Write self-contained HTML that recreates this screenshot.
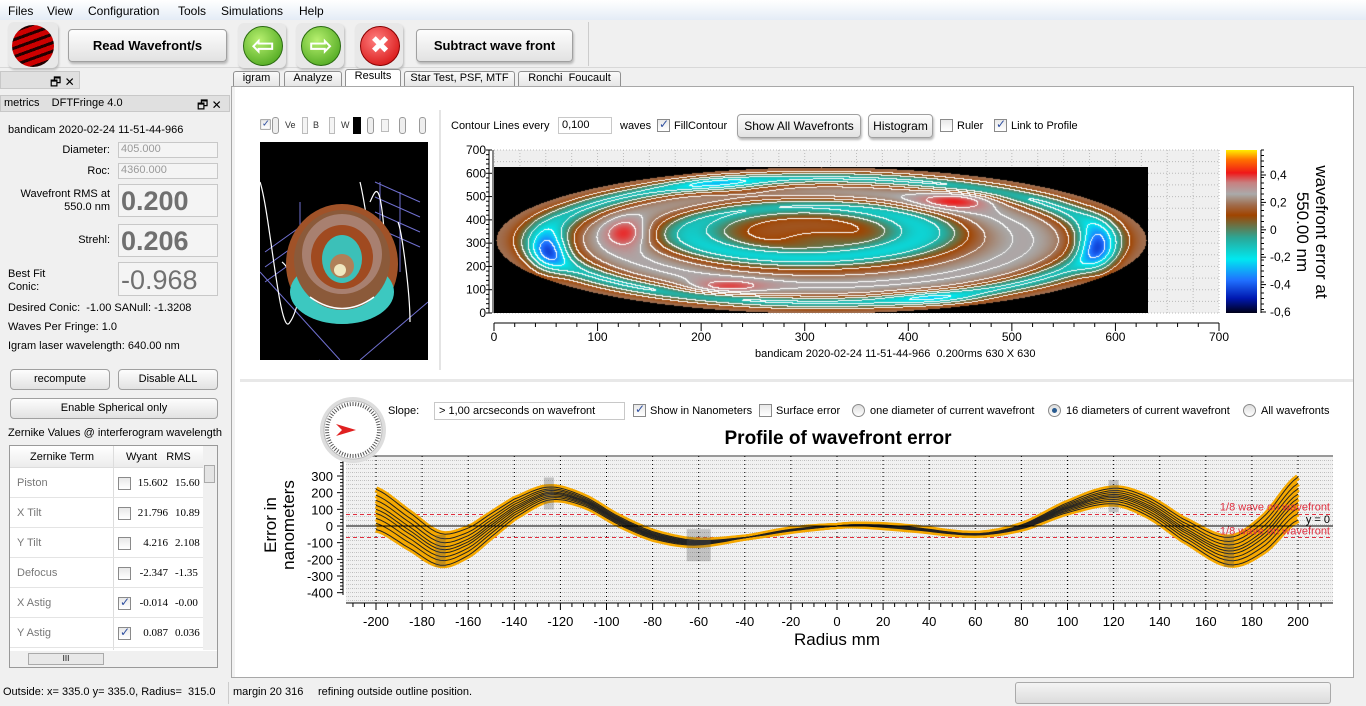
<!DOCTYPE html>
<html><head><meta charset="utf-8">
<style>
*{margin:0;padding:0;box-sizing:border-box}
body{width:1366px;height:706px;overflow:hidden;background:#f0f0f0;font-family:"Liberation Sans","DejaVu Sans",sans-serif;font-size:12px;color:#000;position:relative}
.a{position:absolute;white-space:nowrap}
.btn{position:absolute;border:1px solid #a0a0a0;border-radius:4px;background:linear-gradient(#fdfdfd,#e2e2e2);box-shadow:1px 2px 2px #b8b8b8;text-align:center}
.fld{position:absolute;border:1px solid #c8c8c8;background:#f4f4f4}
.cb{position:absolute;width:13px;height:13px;border:1px solid #8a8a8a;background:linear-gradient(#e8e8e8,#fff)}
.cb.on::after{content:"✓";position:absolute;left:1px;top:-3px;font-size:12px;color:#3050a0;font-weight:bold}
.rd{position:absolute;width:13px;height:13px;border:1px solid #8a8a8a;border-radius:50%;background:linear-gradient(#ddd,#fff)}
.rd.on::after{content:"";position:absolute;left:3px;top:3px;width:5px;height:5px;border-radius:50%;background:#2a5c90}
.tab{position:absolute;top:71px;height:15px;border:1px solid #909090;border-bottom:none;background:linear-gradient(#fafafa,#e6e6e6);font-size:11px;text-align:center;line-height:13px;border-radius:3px 3px 0 0}
</style></head><body>
<div class="a" style="left:0;top:0;width:1366px;height:20px;background:linear-gradient(#fff,#e4ecf6)"></div>
<div class="a" style="left:8px;top:4px">Files</div><div class="a" style="left:47px;top:4px">View</div><div class="a" style="left:88px;top:4px">Configuration</div><div class="a" style="left:178px;top:4px">Tools</div><div class="a" style="left:221px;top:4px">Simulations</div><div class="a" style="left:299px;top:4px">Help</div>
<div class="a" style="left:0;top:20px;width:1366px;height:48px;background:#f0f0f0;border-bottom:1px solid #d8d8d8"></div>
<div class="a" style="left:8px;top:22px;width:50px;height:46px;border-radius:6px;background:#e8e8e8;box-shadow:1px 2px 2px #bbb"></div>
<div class="a" style="left:12px;top:25px;width:42px;height:42px;border-radius:50%;background:repeating-linear-gradient(160deg,#c00 0 5px,#200 5px 8px)"></div>
<div class="btn" style="left:68px;top:29px;width:159px;height:33px;line-height:31px;font-weight:bold;font-size:13px">Read Wavefront/s</div>
<div class="a" style="left:238px;top:23px;width:48px;height:45px;border-radius:6px;background:#e8e8e8;box-shadow:1px 2px 2px #bbb"></div>
<div class="a" style="left:243px;top:26px;width:40px;height:40px;border-radius:50%;background:radial-gradient(circle at 40% 35%,#b8f070,#3a9a10);border:1px solid #2a6a10;color:#fff;font-size:28px;font-weight:bold;text-align:center;line-height:38px">⇦</div>
<div class="a" style="left:296px;top:23px;width:48px;height:45px;border-radius:6px;background:#e8e8e8;box-shadow:1px 2px 2px #bbb"></div>
<div class="a" style="left:301px;top:26px;width:40px;height:40px;border-radius:50%;background:radial-gradient(circle at 40% 35%,#b8f070,#3a9a10);border:1px solid #2a6a10;color:#fff;font-size:28px;font-weight:bold;text-align:center;line-height:38px">⇨</div>
<div class="a" style="left:355px;top:23px;width:48px;height:45px;border-radius:6px;background:#e8e8e8;box-shadow:1px 2px 2px #bbb"></div>
<div class="a" style="left:360px;top:26px;width:40px;height:40px;border-radius:50%;background:radial-gradient(circle at 40% 35%,#ff8080,#d00000);border:1px solid #800;color:#fff;font-size:24px;font-weight:bold;text-align:center;line-height:38px">✖</div>
<div class="btn" style="left:416px;top:29px;width:157px;height:33px;line-height:31px;font-weight:bold;font-size:13px">Subtract wave front</div>
<div class="a" style="left:588px;top:22px;width:1px;height:44px;background:#ccc"></div>
<div class="a" style="left:0;top:71px;width:80px;height:18px;background:#e0e0e0;border:1px solid #c8c8c8"></div>
<div class="a" style="left:50px;top:73px;font-size:12px">🗗 ✕</div>
<div class="a" style="left:0;top:95px;width:230px;height:17px;background:#e0e0e0;border:1px solid #c8c8c8"></div>
<div class="a" style="left:4px;top:97px;font-size:11px">metrics&nbsp;&nbsp;&nbsp;&nbsp;DFTFringe 4.0</div>
<div class="a" style="left:197px;top:96px;font-size:12px">🗗 ✕</div>
<div class="a" style="left:8px;top:124px;font-size:11px">bandicam 2020-02-24 11-51-44-966</div>
<div class="a" style="left:0;top:144px;width:110px;text-align:right;font-size:11px">Diameter:</div>
<div class="fld" style="left:118px;top:142px;width:100px;height:16px;color:#999;font-size:11px;padding-left:2px">405.000</div>
<div class="a" style="left:0;top:165px;width:110px;text-align:right;font-size:11px">Roc:</div>
<div class="fld" style="left:118px;top:163px;width:100px;height:16px;color:#999;font-size:11px;padding-left:2px">4360.000</div>
<div class="a" style="left:0;top:188px;width:110px;text-align:right;font-size:11px;line-height:13px">Wavefront RMS at<br>550.0 nm</div>
<div class="fld" style="left:118px;top:184px;width:100px;height:33px;color:#707070;font-size:27px;font-weight:bold;padding-left:2px;line-height:33px">0.200</div>
<div class="a" style="left:0;top:234px;width:110px;text-align:right;font-size:11px">Strehl:</div>
<div class="fld" style="left:118px;top:224px;width:100px;height:33px;color:#707070;font-size:27px;font-weight:bold;padding-left:2px;line-height:33px">0.206</div>
<div class="a" style="left:8px;top:268px;font-size:11px;line-height:13px">Best Fit<br>Conic:</div>
<div class="fld" style="left:118px;top:262px;width:100px;height:34px;color:#707070;font-size:27px;padding-left:2px;line-height:34px">-0.968</div>
<div class="a" style="left:8px;top:302px;font-size:11px">Desired Conic:&nbsp; -1.00 SANull: -1.3208</div>
<div class="a" style="left:8px;top:321px;font-size:11px">Waves Per Fringe: 1.0</div>
<div class="a" style="left:8px;top:340px;font-size:11px">Igram laser wavelength: 640.00 nm</div>
<div class="btn" style="left:10px;top:369px;width:100px;height:21px;line-height:19px;font-size:11px;box-shadow:none">recompute</div>
<div class="btn" style="left:118px;top:369px;width:100px;height:21px;line-height:19px;font-size:11px;box-shadow:none">Disable ALL</div>
<div class="btn" style="left:10px;top:398px;width:208px;height:21px;line-height:19px;font-size:11px;box-shadow:none">Enable Spherical only</div>
<div class="a" style="left:8px;top:427px;font-size:11px">Zernike Values @ interferogram wavelength</div>
<div class="a" style="left:9px;top:445px;width:209px;height:223px;border:1px solid #999;background:#fff"></div>
<div class="a" style="left:10px;top:446px;width:193px;height:22px;background:linear-gradient(#fff,#ececec);border-bottom:1px solid #ddd"></div>
<div class="a" style="left:30px;top:451px;font-size:11px">Zernike Term</div>
<div class="a" style="left:126px;top:451px;font-size:11px">Wyant&nbsp;&nbsp; RMS</div>
<div class="a" style="left:113px;top:446px;width:1px;height:204px;background:#ddd"></div>
<div class="a" style="left:203px;top:446px;width:14px;height:204px;background:#f0f0f0"></div>
<div class="a" style="left:204px;top:465px;width:11px;height:18px;border:1px solid #aaa;background:#e4e4e4"></div>
<div class="a" style="left:10px;top:651px;width:207px;height:16px;background:#f0f0f0"></div>
<div class="a" style="left:28px;top:653px;width:76px;height:12px;border:1px solid #aaa;background:#e8e8e8;font-size:8px;text-align:center">III</div>
<div id="zt"></div>
<div class="tab" style="left:233px;width:47px">igram</div>
<div class="tab" style="left:284px;width:58px">Analyze</div>
<div class="tab" style="left:345px;width:56px;top:69px;height:18px;background:#fff">Results</div>
<div class="tab" style="left:404px;width:111px">Star Test, PSF, MTF</div>
<div class="tab" style="left:518px;width:103px">Ronchi&nbsp; Foucault</div>
<div class="a" style="left:231px;top:86px;width:1123px;height:592px;background:#fff;border:1px solid #a8a8a8"></div>
<div class="a" style="left:232px;top:87px;width:3px;height:590px;background:#f2f2f2"></div>
<div class="a" style="left:259px;top:116px;width:170px;height:18px;font-size:9px;color:#333">
<span class="cb on" style="left:0;top:2px;transform:scale(.8)"></span>
<span class="a" style="left:13px;top:1px;width:7px;height:17px;border:1px solid #999;border-radius:3px;background:#eee"></span>
<span class="a" style="left:26px;top:4px">Ve</span><span class="a" style="left:43px;top:1px;width:6px;height:17px;border:1px solid #bbb;background:#f4f4f4"></span>
<span class="a" style="left:54px;top:4px">B</span><span class="a" style="left:70px;top:1px;width:6px;height:17px;border:1px solid #bbb;background:#f4f4f4"></span>
<span class="a" style="left:82px;top:4px">W</span>
<span class="a" style="left:94px;top:1px;width:8px;height:17px;background:#000"></span>
<span class="a" style="left:108px;top:1px;width:7px;height:17px;border:1px solid #999;border-radius:3px;background:#eee"></span>
<span class="a" style="left:122px;top:3px;width:8px;height:13px;border:1px solid #bbb;background:#f4f4f4"></span>
<span class="a" style="left:140px;top:1px;width:7px;height:17px;border:1px solid #999;border-radius:3px;background:#eee"></span>
<span class="a" style="left:160px;top:1px;width:7px;height:17px;border:1px solid #999;border-radius:3px;background:#eee"></span></div>
<div class="a" style="left:260px;top:142px;width:168px;height:218px;background:#000;overflow:hidden">
<svg width="168" height="218">
<g stroke="#7070d0" stroke-width="1" fill="none">
<path d="M5 110 L40 85 M5 125 L40 100 M5 140 L40 115 M115 40 L160 60 M115 55 L160 75 M115 70 L160 90 M115 85 L160 105 M10 250 L60 218 M0 130 L80 218 M168 160 L100 218"/>
<path d="M40 60 V150 M120 40 V120 M140 50 V130"/>
</g>
<path d="M0 40 C10 70 20 200 30 180 C45 160 50 60 60 120 M100 40 C105 60 110 100 115 130 M138 80 C142 90 150 150 150 180 M22 120 C35 130 50 180 60 150 M110 60 C115 50 120 30 125 100" stroke="#fff" stroke-width="1.2" fill="none"/>
<ellipse cx="82" cy="122" rx="56" ry="60" fill="#a05228"/>
<ellipse cx="82" cy="150" rx="52" ry="32" fill="#3cc8c0"/>
<ellipse cx="82" cy="118" rx="48" ry="50" fill="#8b5a3a"/>
<ellipse cx="82" cy="112" rx="40" ry="40" fill="#a88070"/>
<ellipse cx="82" cy="115" rx="31" ry="32" fill="#a04a20"/>
<ellipse cx="82" cy="117" rx="20" ry="24" fill="#3cc0b8"/>
<ellipse cx="82" cy="124" rx="12" ry="12" fill="#b08058"/>
<ellipse cx="80" cy="128" rx="6" ry="6" fill="#f0e8c0"/>
<path d="M50 155 Q82 178 114 155" stroke="#fff" stroke-width="1.5" fill="none"/>
</svg></div>
<div class="a" style="left:439px;top:110px;width:2px;height:260px;background:#e4e4e4"></div>
<div class="a" style="left:451px;top:120px;font-size:11px">Contour Lines every</div>
<div class="fld" style="left:558px;top:117px;width:54px;height:17px;background:#fff;font-size:11px;padding:1px 3px">0,100</div>
<div class="a" style="left:620px;top:120px;font-size:11px">waves</div>
<div class="cb on" style="left:657px;top:119px"></div><div class="a" style="left:674px;top:120px;font-size:11px">FillContour</div>
<div class="btn" style="left:737px;top:114px;width:124px;height:24px;line-height:22px">Show All Wavefronts</div>
<div class="btn" style="left:868px;top:114px;width:65px;height:24px;line-height:22px">Histogram</div>
<div class="cb" style="left:940px;top:119px"></div><div class="a" style="left:957px;top:120px;font-size:11px">Ruler</div>
<div class="cb on" style="left:994px;top:119px"></div><div class="a" style="left:1011px;top:120px;font-size:11px">Link to Profile</div>
<svg class="a" style="left:440px;top:140px" width="926" height="230" id="csvg"></svg>
<canvas id="cv" class="a" style="left:494px;top:167px" width="654" height="146"></canvas>
<div class="a" style="left:755px;top:348px;font-size:11px">bandicam 2020-02-24 11-51-44-966&nbsp; 0.200rms 630 X 630</div>
<div class="a" style="left:1312px;top:232px;font-size:17px;transform:translate(-50%,-50%) rotate(90deg);text-align:center;line-height:19px">wavefront error at<br>550.00 nm</div>
<div class="a" style="left:240px;top:379px;width:1113px;height:3px;background:#e8e8e8"></div>
<div class="a" style="left:388px;top:405px;font-size:11px">Slope:</div>
<div class="fld" style="left:434px;top:402px;width:191px;height:18px;background:#fff;font-size:11px;padding:2px 4px">&gt; 1,00 arcseconds on wavefront</div>
<div class="cb on" style="left:633px;top:404px"></div><div class="a" style="left:650px;top:405px;font-size:11px">Show in Nanometers</div>
<div class="cb" style="left:759px;top:404px"></div><div class="a" style="left:776px;top:405px;font-size:11px">Surface error</div>
<div class="rd" style="left:852px;top:404px"></div><div class="a" style="left:870px;top:405px;font-size:11px">one diameter of current wavefront</div>
<div class="rd on" style="left:1048px;top:404px"></div><div class="a" style="left:1066px;top:405px;font-size:11px">16 diameters of current wavefront</div>
<div class="rd" style="left:1243px;top:404px"></div><div class="a" style="left:1261px;top:405px;font-size:11px">All wavefronts</div>
<div class="a" style="left:838px;top:428px;transform:translateX(-50%);font-size:19px;font-weight:bold">Profile of wavefront error</div>
<svg class="a" style="left:240px;top:380px" width="1113" height="298" id="psvg"></svg>
<div class="a" style="left:0;top:679px;width:1366px;height:27px;background:#f0f0f0"></div>
<div class="a" style="left:3px;top:686px;font-size:11px">Outside: x= 335.0 y= 335.0, Radius=&nbsp; 315.0</div>
<div class="a" style="left:228px;top:682px;width:1px;height:22px;background:#ccc"></div>
<div class="a" style="left:233px;top:686px;font-size:11px">margin 20 316</div>
<div class="a" style="left:318px;top:686px;font-size:11px">refining outside outline position.</div>
<div class="a" style="left:1015px;top:682px;width:316px;height:22px;border:1px solid #aaa;border-radius:3px;background:linear-gradient(#f4f4f4,#dcdcdc)"></div>
<script>
(function(){var rows=[["Piston",0,"15.602","15.60"],["X Tilt",0,"21.796","10.89"],["Y Tilt",0,"4.216","2.108"],["Defocus",0,"-2.347","-1.35"],["X Astig",1,"-0.014","-0.00"],["Y Astig",1,"0.087","0.036"]];
var h="";rows.forEach(function(r,i){var y=468+i*30;
h+='<div class="a" style="left:10px;top:'+(y+29)+'px;width:193px;height:1px;background:#e4e4e4"></div>';
h+='<div class="a" style="left:17px;top:'+(y+9)+'px;font-size:11px;color:#777">'+r[0]+'</div>';
h+='<div class="cb'+(r[1]?' on':'')+'" style="left:118px;top:'+(y+9)+'px"></div>';
h+='<div class="a" style="left:136px;top:'+(y+9)+'px;width:32px;text-align:right;font-family:\'Liberation Serif\',serif;font-size:11px">'+r[2]+'</div>';
h+='<div class="a" style="left:175px;top:'+(y+9)+'px;font-family:\'Liberation Serif\',serif;font-size:11px">'+r[3]+'</div>';});
document.getElementById("zt").innerHTML=h;})();
var NS="http://www.w3.org/2000/svg";
function el(p,t,a,txt){var e=document.createElementNS(NS,t);for(var k in a)e.setAttribute(k,a[k]);if(txt!=null)e.textContent=txt;p.appendChild(e);return e;}
var P=[[-200,100],[-185,-30],[-172,-140],[-160,-95],[-150,5],[-140,105],[-125,195],[-110,150],[-95,35],[-80,-55],[-62,-100],[-40,-70],[-20,-25],[0,0],[10,5],[30,-12],[60,-50],[80,-5],[100,110],[120,180],[135,115],[150,-20],[170,-150],[185,-50],[200,165]];
function cr(x){var i=0;while(i<P.length-2&&P[i+1][0]<x)i++;var p0=P[Math.max(i-1,0)],p1=P[i],p2=P[i+1],p3=P[Math.min(i+2,P.length-1)];var t=(x-p1[0])/(p2[0]-p1[0]);var t2=t*t,t3=t2*t;
return 0.5*((2*p1[1])+(-p0[1]+p2[1])*t+(2*p0[1]-5*p1[1]+4*p2[1]-p3[1])*t2+(-p0[1]+3*p1[1]-3*p2[1]+p3[1])*t3);}
(function(){var s=document.getElementById("csvg"),ox=440,oy=140;
function X(v){return 494+v*725/700-ox}function Y(v){return 313-v*163/700-oy}
el(s,"rect",{x:X(0),y:Y(700),width:725,height:163,fill:"#efefef"});
for(var v=0;v<=700;v+=25){el(s,"line",{x1:X(v),x2:X(v),y1:Y(0),y2:Y(700),stroke:"#bbb","stroke-dasharray":"1 2"});}
for(var v=0;v<=700;v+=50){el(s,"line",{x1:X(0),x2:X(700),y1:Y(v),y2:Y(v),stroke:"#bbb","stroke-dasharray":"1 2"});}
el(s,"line",{x1:X(0)-1,x2:X(0)-1,y1:Y(0),y2:Y(700),stroke:"#888","stroke-width":2});
el(s,"line",{x1:X(0),x2:X(700),y1:Y(0)+10,y2:Y(0)+10,stroke:"#000"});
for(var v=0;v<=700;v+=20){el(s,"line",{x1:X(v),x2:X(v),y1:Y(0)+10,y2:Y(0)+(v%100?14:18),stroke:"#000"});}
for(var v=0;v<=700;v+=100){el(s,"text",{x:X(v),y:Y(0)+28,"text-anchor":"middle","font-size":12,"font-family":"Liberation Sans"},v);
el(s,"text",{x:X(0)-8,y:Y(v)+4,"text-anchor":"end","font-size":12,"font-family":"Liberation Sans"},v);}
for(var v=0;v<=700;v+=20){el(s,"line",{x1:X(0)-8,x2:X(0)-(v%100?5:2),y1:Y(v),y2:Y(v),stroke:"#000"});}
el(s,"line",{x1:X(0)-5,x2:X(0)-5,y1:Y(0),y2:Y(700),stroke:"#000"});
var g=el(s,"linearGradient",{id:"cg",x1:0,y1:1,x2:0,y2:0});
var st=[[0,"#000018"],[.09,"#0018b0"],[.2,"#2070ff"],[.33,"#00e8f0"],[.46,"#2aa898"],[.6,"#a04400"],[.66,"#a06a48"],[.73,"#aaaaaa"],[.8,"#c88080"],[.86,"#f01818"],[.94,"#ff7000"],[1,"#ffee00"]];
st.forEach(function(a){el(g,"stop",{offset:a[0],"stop-color":a[1]})});
el(s,"rect",{x:1226-ox,y:150-oy,width:31,height:163,fill:"url(#cg)"});
el(s,"line",{x1:1261-ox,x2:1261-ox,y1:150-oy,y2:313-oy,stroke:"#000"});
var lab=["0,4","0,2","0","-0,2","-0,4","-0,6"];
for(var i=0;i<6;i++){var yy=175+i*27.4-oy;el(s,"line",{x1:1261-ox,x2:1266-ox,y1:yy,y2:yy,stroke:"#000"});el(s,"text",{x:1270-ox,y:yy+4,"font-size":12,"font-family":"Liberation Sans"},lab[i]);}
for(var i=0;i<30;i++){var yy=150+i*5.5-oy;el(s,"line",{x1:1261-ox,x2:1264-ox,y1:yy,y2:yy,stroke:"#000"});}
})();
(function(){var c=document.getElementById("cv"),ctx=c.getContext("2d"),W=654,H=146;
var img=ctx.createImageData(W,H),d=img.data;
var st=[[-.6,[0,0,24]],[-.5,[0,24,176]],[-.42,[32,112,255]],[-.3,[0,232,240]],[-.17,[42,168,152]],[0,[160,68,0]],[.08,[160,106,72]],[.2,[170,170,170]],[.3,[200,128,128]],[.4,[240,24,24]],[.5,[255,112,0]],[.58,[255,238,0]]];
function col(w){if(w<=st[0][0])return st[0][1];for(var i=1;i<st.length;i++)if(w<=st[i][0]){var a=st[i-1],b=st[i],t=(w-a[0])/(b[0]-a[0]);return [a[1][0]+(b[1][0]-a[1][0])*t,a[1][1]+(b[1][1]-a[1][1])*t,a[1][2]+(b[1][2]-a[1][2])*t];}return st[st.length-1][1];}
function gs(x,m,s){return Math.exp(-Math.pow((x-m)/s,2));}
function spot(u,v,cu,cv,su,sv){return Math.exp(-Math.pow((u-cu)/su,2)-Math.pow((v-cv)/sv,2));}
var cx=327,cy=73,rx=325,ry=73;var W2=new Float32Array(W*H),M=new Uint8Array(W*H);
for(var y=0;y<H;y++)for(var x=0;x<W;x++){var u=(x-cx)/rx,v=-(y-cy)/ry,r=Math.sqrt(u*u+v*v);if(r>1)continue;
var uu=u+0.05,vv=v-0.12,r2=Math.sqrt(uu*uu+vv*vv),th=Math.atan2(v,u);
var w=0.04-0.30*gs(r2,0.36,0.13)+0.17*gs(r,0.62,0.14)-0.26*gs(r,0.85,0.08)+0.06*gs(r,1.0,0.06);
w+=-0.08*gs(r,0.0,0.12);
w+=0.22*spot(u,v,0.42,0.55,0.12,0.12)+0.2*spot(u,v,-0.3,-0.65,0.12,0.1)+0.2*spot(u,v,-0.6,0.1,0.07,0.2);
w+=-0.25*spot(u,v,-0.84,-0.15,0.06,0.3)-0.25*spot(u,v,0.85,-0.1,0.06,0.35)-0.15*spot(u,v,-0.3,0.75,0.15,0.12)-0.12*spot(u,v,0.35,-0.8,0.15,0.1);
M[y*W+x]=1;W2[y*W+x]=w;}
for(var y=0;y<H;y++)for(var x=0;x<W;x++){var i=y*W+x,p=i*4;
if(!M[i]){d[p]=0;d[p+1]=0;d[p+2]=0;d[p+3]=255;continue;}
var w=W2[i],l=Math.floor(w/0.1),line=false;
if(x+1<W&&M[i+1]&&Math.floor(W2[i+1]/0.1)!=l)line=true;if(y+1<H&&M[i+W]&&Math.floor(W2[i+W]/0.1)!=l)line=true;
var c2=line?[255,255,255]:col(w);
d[p]=c2[0];d[p+1]=c2[1];d[p+2]=c2[2];d[p+3]=255;}
ctx.putImageData(img,0,0);})();
(function(){var s=document.getElementById("psvg"),ox=240,oy=380;
function X(r){return 837+r*922/400-ox}function Y(v){return 526-v*0.1667-oy}
var L=346-ox,R=1333-ox,T=456-oy,B=603-oy;
var pat=el(s,"pattern",{id:"pp",width:4,height:4,patternUnits:"userSpaceOnUse"});
el(pat,"rect",{width:4,height:4,fill:"#f1f1f1"});el(pat,"rect",{x:0,y:0,width:1,height:1,fill:"#bbb"});el(pat,"rect",{x:2,y:0,width:1,height:1,fill:"#ccc"});
el(s,"rect",{x:L,y:T,width:R-L,height:B-T,fill:"url(#pp)"});
el(s,"line",{x1:L,x2:R,y1:T,y2:T,stroke:"#999","stroke-width":2});
for(var r=-200;r<=200;r+=20)el(s,"line",{x1:X(r),x2:X(r),y1:T,y2:B,stroke:"#000","stroke-dasharray":"1 3"});
el(s,"line",{x1:L,x2:R,y1:Y(68.75),y2:Y(68.75),stroke:"#e03040","stroke-dasharray":"4 3"});
el(s,"line",{x1:L,x2:R,y1:Y(-68.75),y2:Y(-68.75),stroke:"#e03040","stroke-dasharray":"4 3"});
var ks=[-1,-0.7,-0.45,-0.2,0,0.2,0.45,0.7,1];var paths=[];
ks.forEach(function(k){var d="";for(var r=-200;r<=200;r+=2){var a=Math.abs(r)/200;var sp=125*Math.pow(a,2.2);var v=cr(r)+k*sp+k*6*Math.sin(r/15);d+=(r==-200?"M":"L")+X(r).toFixed(1)+" "+Y(v).toFixed(1);}paths.push(d);});
paths.forEach(function(d){el(s,"path",{d:d,stroke:"#f5a800","stroke-width":6,fill:"none","stroke-linejoin":"round"})});
paths.forEach(function(d){el(s,"path",{d:d,stroke:"#222","stroke-width":1,fill:"none"})});
[[-172,-150,10],[-125,195,10],[-60,-115,24],[120,180,10],[170,-150,10]].forEach(function(g){el(s,"rect",{x:X(g[0])-g[2]/2,y:Y(g[1])-16,width:g[2],height:32,fill:"#555",opacity:.3})});
el(s,"line",{x1:L,x2:R,y1:Y(0),y2:Y(0),stroke:"#000"});
el(s,"text",{x:R-3,y:Y(68.75)-4,"text-anchor":"end","font-size":11,fill:"#e03040","font-family":"Liberation Sans"},"1/8 wave on wavefront");
el(s,"text",{x:R-3,y:Y(-68.75)-3,"text-anchor":"end","font-size":11,fill:"#e03040","font-family":"Liberation Sans"},"-1/8 wave on wavefront");
el(s,"text",{x:R-3,y:Y(0)-3,"text-anchor":"end","font-size":11,"font-family":"Liberation Sans"},"y = 0");
el(s,"line",{x1:L-3,x2:L-3,y1:T,y2:B-8,stroke:"#000"});
for(var v=-400;v<=380;v+=20)el(s,"line",{x1:L-3-(v%100?3:6),x2:L-3,y1:Y(v),y2:Y(v),stroke:"#000"});
for(var v=-400;v<=300;v+=100)el(s,"text",{x:L-13,y:Y(v)+5,"text-anchor":"end","font-size":13,"font-family":"Liberation Sans"},v);
el(s,"line",{x1:L,x2:R,y1:B,y2:B,stroke:"#000"});
for(var r=-210;r<=210;r+=5)el(s,"line",{x1:X(r),x2:X(r),y1:B,y2:B+(r%20?4:7),stroke:"#000"});
for(var r=-200;r<=200;r+=20)el(s,"text",{x:X(r),y:B+23,"text-anchor":"middle","font-size":13,"font-family":"Liberation Sans"},r);
el(s,"text",{x:X(0),y:B+42,"text-anchor":"middle","font-size":17,"font-family":"Liberation Sans"},"Radius mm");
var t=el(s,"text",{x:0,y:0,"text-anchor":"middle","font-size":17,"font-family":"Liberation Sans",transform:"translate("+(276-ox)+","+(525-oy)+") rotate(-90)"});
el(t,"tspan",{x:0,dy:0},"Error in");el(t,"tspan",{x:0,dy:18},"nanometers");
var cx=353-ox,cy=430-oy;
el(s,"circle",{cx:cx,cy:cy,r:33,fill:"#ddd"});el(s,"circle",{cx:cx,cy:cy,r:29,fill:"#fff",stroke:"#bbb"});
for(var i=0;i<60;i++){var a=i*6*Math.PI/180;el(s,"line",{x1:cx+24*Math.cos(a),y1:cy+24*Math.sin(a),x2:cx+28*Math.cos(a),y2:cy+28*Math.sin(a),stroke:"#555","stroke-width":1});}
el(s,"path",{d:"M"+(cx-17)+" "+(cy-6)+" L"+(cx+3)+" "+cy+" L"+(cx-17)+" "+(cy+6)+" L"+(cx-11)+" "+cy+"Z",fill:"#e02020"});
})();
</script>
</body></html>
